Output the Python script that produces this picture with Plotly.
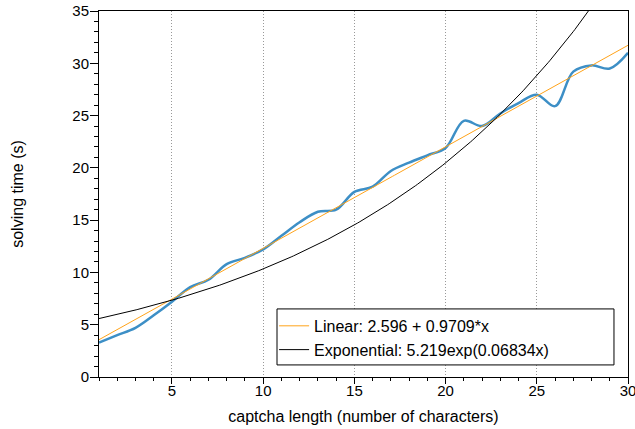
import numpy as np
import plotly.graph_objects as go

# measured solving time per captcha length
lengths = list(range(1, 31))
solve_times = [3.3, 4.0, 4.7, 5.9, 7.2, 8.6, 9.3, 10.8, 11.4, 12.2,
               13.5, 14.8, 15.8, 16.0, 17.7, 18.2, 19.7, 20.5, 21.2, 21.9,
               24.5, 24.0, 25.2, 26.2, 27.0, 25.9, 29.2, 29.8, 29.5, 31.0]

# fit coefficients as printed in the legend
lin_a, lin_b = 2.596, 0.9709
exp_a, exp_b = 5.219, 0.06834

x_fit = np.linspace(1, 30, 300)
y_lin = lin_a + lin_b * x_fit
y_exp = exp_a * np.exp(exp_b * x_fit)

FONT = "Liberation Sans, Arial, Helvetica, sans-serif"

fig = go.Figure()
fig.add_trace(go.Scatter(x=lengths, y=solve_times, mode="lines", line_shape="spline",
                         line=dict(color="#3d8fc6", width=2.5), showlegend=False))
fig.add_trace(go.Scatter(x=x_fit, y=y_lin, mode="lines", name="Linear: 2.596 + 0.9709*x",
                         line=dict(color="#ffa31a", width=1)))
fig.add_trace(go.Scatter(x=x_fit, y=y_exp, mode="lines", name="Exponential: 5.219exp(0.06834x)",
                         line=dict(color="black", width=1)))

axis_common = dict(showline=True, linecolor="black", linewidth=1, mirror=True,
                   ticks="outside", tickcolor="black", zeroline=False,
                   automargin=False, ticklabeloverflow="allow",
                   tickfont=dict(size=15, color="black"))

fig.update_xaxes(range=[1, 30], tickvals=[5, 10, 15, 20, 25, 30], ticklen=6, ticklabelstandoff=-6,
                 showgrid=True, gridcolor="#999999", griddash="1px,2px", gridwidth=1,
                 minor=dict(dtick=1, tick0=0, ticks="outside", ticklen=3, tickcolor="black", showgrid=False),
                 title=dict(text="captcha length (number of characters)", font=dict(size=16, color="black"),
                            standoff=12),
                 **axis_common)
fig.update_yaxes(range=[0, 35], dtick=5, ticklen=8, ticklabelstandoff=-2, showgrid=False,
                 minor=dict(dtick=1, ticks="outside", ticklen=4, tickcolor="black", showgrid=False),
                 title=dict(text="solving time (s)", font=dict(size=16, color="black"), standoff=44),
                 **axis_common)

# legend frame drawn as a box, legend sits inside it
fig.add_shape(type="rect", xref="paper", yref="paper", x0=0.3365, x1=0.9735, y0=0.033, y1=0.186,
              line=dict(color="black", width=1), fillcolor="white", layer="above")

fig.update_layout(
    width=635, height=429,
    margin=dict(l=99, r=7, t=11, b=52),
    paper_bgcolor="white", plot_bgcolor="white",
    font=dict(family=FONT, color="black"),
    legend=dict(x=0.331, y=0.186, xanchor="left", yanchor="top", bgcolor="rgba(0,0,0,0)",
                borderwidth=0, font=dict(size=16, color="black"), itemwidth=30, tracegroupgap=0),
)

# drop the default 8px page margin so the figure fills the window
fig.write_html("out.html", config={"displayModeBar": False},
               post_script="document.body.style.margin='0';")
